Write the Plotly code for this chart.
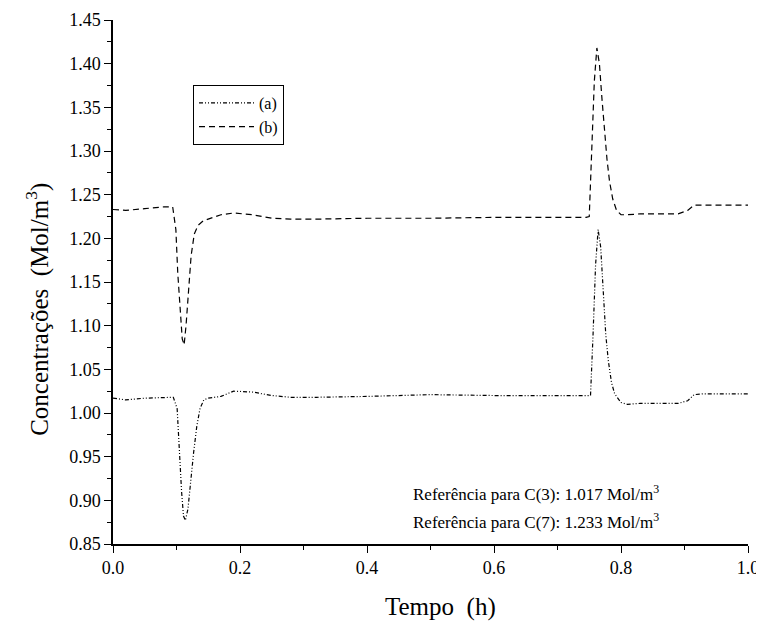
import plotly.graph_objects as go

t_a = [0.0, 0.02, 0.05, 0.08, 0.095, 0.101, 0.104, 0.108, 0.111, 0.114, 0.118, 0.122, 0.127, 0.132, 0.137, 0.143, 0.15, 0.17, 0.19, 0.22, 0.25, 0.28, 0.32, 0.4, 0.5, 0.6, 0.7, 0.745, 0.752, 0.756, 0.760, 0.764, 0.768, 0.772, 0.776, 0.780, 0.785, 0.79, 0.80, 0.81, 0.83, 0.86, 0.89, 0.905, 0.915, 0.93, 0.96, 1.0]
c_a = [1.017, 1.015, 1.017, 1.018, 1.018, 1.005, 0.96, 0.91, 0.882, 0.877, 0.89, 0.92, 0.955, 0.985, 1.005, 1.015, 1.017, 1.019, 1.025, 1.024, 1.020, 1.018, 1.018, 1.019, 1.021, 1.020, 1.020, 1.020, 1.020, 1.09, 1.17, 1.21, 1.19, 1.14, 1.09, 1.06, 1.035, 1.022, 1.012, 1.010, 1.011, 1.011, 1.011, 1.014, 1.021, 1.022, 1.022, 1.022]

t_b = [0.0, 0.02, 0.05, 0.08, 0.094, 0.099, 0.102, 0.106, 0.109, 0.112, 0.115, 0.119, 0.123, 0.128, 0.134, 0.142, 0.15, 0.17, 0.19, 0.22, 0.25, 0.28, 0.32, 0.4, 0.5, 0.6, 0.7, 0.745, 0.750, 0.754, 0.758, 0.762, 0.766, 0.770, 0.774, 0.778, 0.782, 0.787, 0.793, 0.80, 0.81, 0.83, 0.86, 0.89, 0.905, 0.915, 0.93, 0.96, 1.0]
c_b = [1.233, 1.232, 1.234, 1.236, 1.236, 1.21, 1.16, 1.11, 1.085, 1.078, 1.10, 1.14, 1.18, 1.205, 1.215, 1.220, 1.222, 1.227, 1.229, 1.227, 1.223, 1.222, 1.222, 1.223, 1.223, 1.224, 1.224, 1.224, 1.225, 1.30, 1.38, 1.418, 1.40, 1.36, 1.32, 1.29, 1.265, 1.245, 1.232, 1.227, 1.227, 1.228, 1.228, 1.228, 1.232, 1.238, 1.238, 1.238, 1.238]

x_ticks = [0.0, 0.2, 0.4, 0.6, 0.8, 1.0]
y_ticks = [0.85, 0.90, 0.95, 1.00, 1.05, 1.10, 1.15, 1.20, 1.25, 1.30, 1.35, 1.40, 1.45]

notes = ["Referência para C(3): 1.017 Mol/m<sup>3</sup>",
         "Referência para C(7): 1.233 Mol/m<sup>3</sup>"]
note_y = [0.908, 0.876]

x_title = "Tempo\u00a0 (h)"
y_title = "Concentrações\u00a0 (Mol/m<sup>3</sup>)"

FONT = "Liberation Serif, Times New Roman, serif"

fig = go.Figure()
fig.add_trace(go.Scatter(x=t_a, y=c_a, mode="lines", name="(a)",
                         line=dict(color="black", width=1.2, dash="4px,2px,1px,2px,1px,2px")))
fig.add_trace(go.Scatter(x=t_b, y=c_b, mode="lines", name="(b)",
                         line=dict(color="black", width=1.2, dash="6px,4px")))

for txt, yy in zip(notes, note_y):
    fig.add_annotation(x=0.469, y=yy, xref="x", yref="y", text=txt, showarrow=False,
                       xanchor="left", yanchor="middle",
                       font=dict(family=FONT, size=17, color="black"))

# axis titles as annotations (positioned like the reference)
fig.add_annotation(x=0.515, y=-0.120, xref="paper", yref="paper", text=x_title, showarrow=False,
                   xanchor="center", yanchor="middle",
                   font=dict(family=FONT, size=25, color="black"))
fig.add_annotation(x=-0.118, y=0.447, xref="paper", yref="paper", text=y_title, showarrow=False,
                   textangle=-90, xanchor="center", yanchor="middle",
                   font=dict(family=FONT, size=25, color="black"))

fig.update_layout(
    template="none",
    width=756, height=617,
    margin=dict(l=105, r=16, t=12, b=81),
    paper_bgcolor="white", plot_bgcolor="white",
    font=dict(family=FONT, size=17, color="black"),
    showlegend=True,
    legend=dict(x=0.126, y=0.876, xanchor="left", yanchor="top",
                bordercolor="black", borderwidth=1, bgcolor="white",
                font=dict(family=FONT, size=16, color="black"), itemwidth=55,
                tracegroupgap=0),
)
fig.update_xaxes(range=[0, 1.0], tickvals=x_ticks, ticktext=[f"{v:.1f}" for v in x_ticks],
                 automargin=False,
                 showgrid=False, zeroline=False, showline=True, linecolor="black", linewidth=1.5,
                 ticks="outside", ticklen=7, tickwidth=1.2, tickcolor="black",
                 minor=dict(dtick=0.1, ticks="outside", ticklen=4, tickcolor="black"),
                 tickfont=dict(family=FONT, size=18, color="black"))
fig.update_yaxes(range=[0.85, 1.45], tickvals=y_ticks, ticktext=[f"{v:.2f}" for v in y_ticks],
                 automargin=False,
                 showgrid=False, zeroline=False, showline=True, linecolor="black", linewidth=1.5,
                 ticks="outside", ticklen=7, tickwidth=1.2, tickcolor="black",
                 minor=dict(dtick=0.025, ticks="outside", ticklen=4, tickcolor="black"),
                 tickfont=dict(family=FONT, size=18, color="black"))

fig.write_html("out.html")
